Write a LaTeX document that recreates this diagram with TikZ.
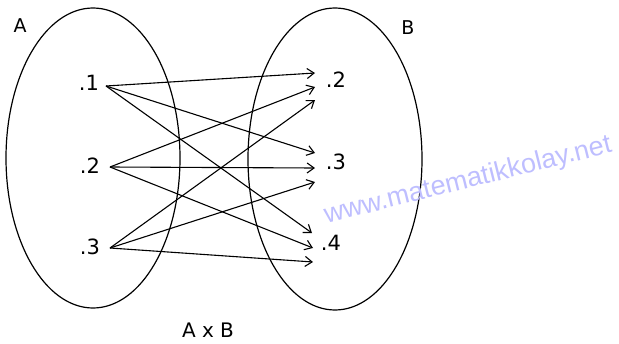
\documentclass[tikz,border=0pt]{standalone}
\usepackage{fontspec}
\setmainfont{DejaVu Sans}
\newfontfamily\wmfont{Liberation Sans}
\usetikzlibrary{arrows.meta}
\definecolor{wmblue}{RGB}{190,190,255}
\tikzset{
  setline/.style={line width=1.2pt},
  maparrow/.style={line width=1.1pt,-{Straight Barb[length=7pt,width=10pt,line width=1.1pt]}},
  elem/.style={inner sep=0pt,font=\fontsize{21}{25}\selectfont},
  setname/.style={inner sep=0pt,font=\fontsize{19}{23}\selectfont}
}
\begin{document}
\begin{tikzpicture}[x=1pt,y=-1pt]
\useasboundingbox (0,0) rectangle (619,343);
\draw[setline] (93,158) ellipse [x radius=87, y radius=150];
\draw[setline] (335,159) ellipse [x radius=87, y radius=151];
\node[setname] (A) at (20,26) {A};
\node[setname] (B) at (408,28) {B};
\node[elem] (a1) at (89,83) {.1};
\node[elem] (a2) at (90,166) {.2};
\node[elem] (a3) at (90,247) {.3};
\node[elem] (b2) at (336,80) {.2};
\node[elem] (b3) at (336,162) {.3};
\node[elem] (b4) at (331,243) {.4};
\node[elem,font=\fontsize{20}{24}\selectfont] (AxB) at (208,330) {A x B};
\node[rotate=14,text=wmblue,font=\wmfont\fontsize{27}{30}\selectfont,inner sep=0pt] (wm) at (468,181) {www.matematikkolay.net};
\coordinate (s1) at (106,86);
\coordinate (s2) at (110,167);
\coordinate (s3) at (110,248);
\coordinate (e1) at (315,73);
\coordinate (e2) at (315,87);
\coordinate (e3) at (315,100);
\coordinate (e4) at (315,153);
\coordinate (e5) at (315,168);
\coordinate (e6) at (315,182);
\coordinate (e7) at (312,233);
\coordinate (e8) at (313,248);
\coordinate (e9) at (313,262);
\draw[maparrow] (s1) -- (e1);
\draw[maparrow] (s1) -- (e4);
\draw[maparrow] (s1) -- (e7);
\draw[maparrow] (s2) -- (e2);
\draw[maparrow] (s2) -- (e5);
\draw[maparrow] (s2) -- (e8);
\draw[maparrow] (s3) -- (e3);
\draw[maparrow] (s3) -- (e6);
\draw[maparrow] (s3) -- (e9);
\end{tikzpicture}
\end{document}
